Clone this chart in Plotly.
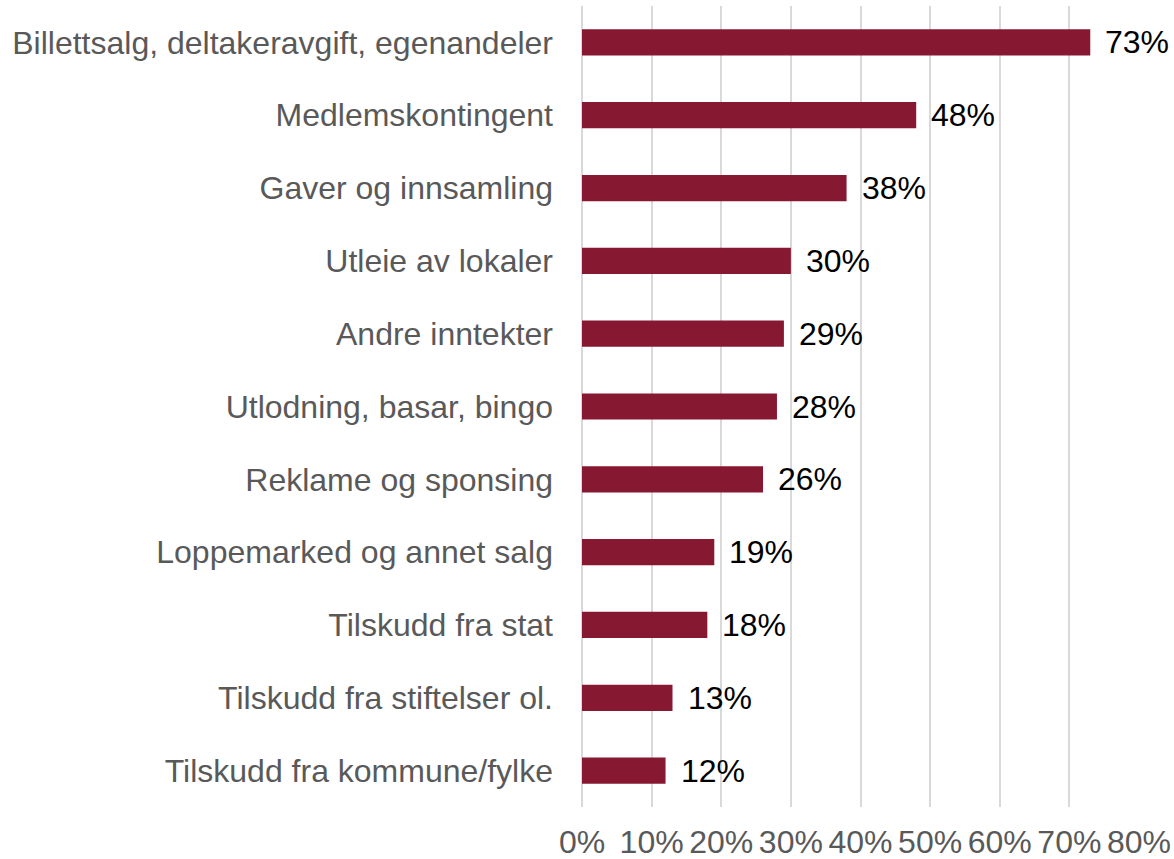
import plotly.graph_objects as go

categories = [
    "Billettsalg, deltakeravgift, egenandeler",
    "Medlemskontingent",
    "Gaver og innsamling",
    "Utleie av lokaler",
    "Andre inntekter",
    "Utlodning, basar, bingo",
    "Reklame og sponsing",
    "Loppemarked og annet salg",
    "Tilskudd fra stat",
    "Tilskudd fra stiftelser ol.",
    "Tilskudd fra kommune/fylke",
]
values = [73, 48, 38, 30, 29, 28, 26, 19, 18, 13, 12]
tick_vals = [0, 10, 20, 30, 40, 50, 60, 70, 80]
tick_text = [f"{v}%" for v in tick_vals]

FONT = "Liberation Sans, Arial"
FS = 32

fig = go.Figure()
fig.add_trace(go.Bar(
    x=values,
    y=categories,
    orientation="h",
    marker=dict(color="#861831", line=dict(width=0)),
    hoverinfo="skip",
))

for c, v in zip(categories, values):
    fig.add_annotation(
        x=v, y=c, text=f"{v}%", showarrow=False,
        xanchor="left", yanchor="middle", xshift=13,
        font=dict(family=FONT, size=FS, color="#000000"),
    )

fig.update_layout(
    width=1174, height=859,
    margin=dict(l=582, r=35, t=6, b=52),
    paper_bgcolor="white", plot_bgcolor="white",
    bargap=0.64,
    showlegend=False,
    font=dict(family=FONT, size=FS, color="#595959"),
)
fig.update_xaxes(
    range=[0, 80], tickvals=tick_vals, ticktext=tick_text,
    showgrid=True, gridcolor="#d9d9d9", gridwidth=2,
    zeroline=True, zerolinecolor="#d9d9d9", zerolinewidth=2,
    ticks="", ticklabelstandoff=13, automargin=False,
    tickfont=dict(family=FONT, size=FS, color="#595959"),
    showline=False, fixedrange=True,
)
fig.update_yaxes(
    categoryorder="array", categoryarray=categories[::-1],
    ticks="", ticklabelstandoff=28, automargin=False,
    tickfont=dict(family=FONT, size=FS, color="#595959"),
    showgrid=False, showline=False, fixedrange=True,
)

fig.write_html("out.html")
